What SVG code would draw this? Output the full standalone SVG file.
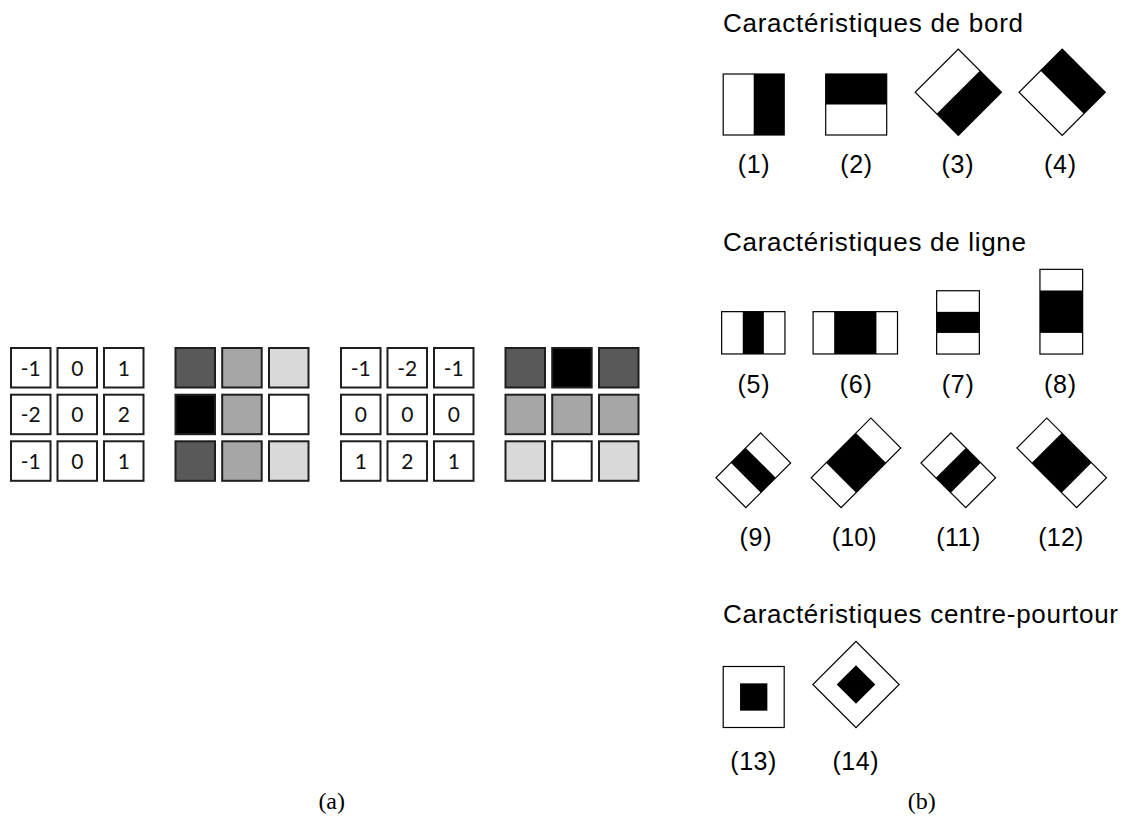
<svg xmlns="http://www.w3.org/2000/svg" width="1124" height="816" viewBox="0 0 1124 816">
<style>
.c{stroke:#1e1e1e;stroke-width:2}
.w{fill:#fff}.k{fill:#000}.d{fill:#595959}.m{fill:#a6a6a6}.l{fill:#d9d9d9}
.n{font-family:Lato,"Open Sans","Liberation Sans",sans-serif;font-size:21px;fill:#111;text-anchor:middle}
.f{stroke:#000;stroke-width:1.2;fill:#fff}
.t{font-family:"Liberation Sans",Arial,sans-serif;font-size:26px;fill:#000}
.lb{font-family:"Liberation Sans",Arial,sans-serif;font-size:25px;fill:#000;text-anchor:middle}
.cap{font-family:"Liberation Serif","DejaVu Serif",serif;font-size:24px;fill:#000;text-anchor:middle}
</style>
<rect width="1124" height="816" fill="#fff"/>

<g id="kernel-x">
<rect class="c w" x="11" y="348" width="39.5" height="39.5"/><text class="n" x="30.75" y="375.5">-1</text>
<rect class="c w" x="57.5" y="348" width="39.5" height="39.5"/><text class="n" x="77.25" y="375.5">0</text>
<rect class="c w" x="104" y="348" width="39.5" height="39.5"/><text class="n" x="123.75" y="375.5">1</text>
<rect class="c w" x="11" y="394.7" width="39.5" height="39.5"/><text class="n" x="30.75" y="422.2">-2</text>
<rect class="c w" x="57.5" y="394.7" width="39.5" height="39.5"/><text class="n" x="77.25" y="422.2">0</text>
<rect class="c w" x="104" y="394.7" width="39.5" height="39.5"/><text class="n" x="123.75" y="422.2">2</text>
<rect class="c w" x="11" y="441.3" width="39.5" height="39.5"/><text class="n" x="30.75" y="468.8">-1</text>
<rect class="c w" x="57.5" y="441.3" width="39.5" height="39.5"/><text class="n" x="77.25" y="468.8">0</text>
<rect class="c w" x="104" y="441.3" width="39.5" height="39.5"/><text class="n" x="123.75" y="468.8">1</text>
</g>

<g id="gray-x">
<rect class="c d" x="175.5" y="348" width="39.5" height="39.5"/>
<rect class="c m" x="222.2" y="348" width="39.5" height="39.5"/>
<rect class="c l" x="269" y="348" width="39.5" height="39.5"/>
<rect class="c k" x="175.5" y="394.7" width="39.5" height="39.5"/>
<rect class="c m" x="222.2" y="394.7" width="39.5" height="39.5"/>
<rect class="c w" x="269" y="394.7" width="39.5" height="39.5"/>
<rect class="c d" x="175.5" y="441.3" width="39.5" height="39.5"/>
<rect class="c m" x="222.2" y="441.3" width="39.5" height="39.5"/>
<rect class="c l" x="269" y="441.3" width="39.5" height="39.5"/>
</g>

<g id="kernel-y">
<rect class="c w" x="341" y="348" width="39.5" height="39.5"/><text class="n" x="360.75" y="375.5">-1</text>
<rect class="c w" x="387.5" y="348" width="39.5" height="39.5"/><text class="n" x="407.25" y="375.5">-2</text>
<rect class="c w" x="434" y="348" width="39.5" height="39.5"/><text class="n" x="453.75" y="375.5">-1</text>
<rect class="c w" x="341" y="394.7" width="39.5" height="39.5"/><text class="n" x="360.75" y="422.2">0</text>
<rect class="c w" x="387.5" y="394.7" width="39.5" height="39.5"/><text class="n" x="407.25" y="422.2">0</text>
<rect class="c w" x="434" y="394.7" width="39.5" height="39.5"/><text class="n" x="453.75" y="422.2">0</text>
<rect class="c w" x="341" y="441.3" width="39.5" height="39.5"/><text class="n" x="360.75" y="468.8">1</text>
<rect class="c w" x="387.5" y="441.3" width="39.5" height="39.5"/><text class="n" x="407.25" y="468.8">2</text>
<rect class="c w" x="434" y="441.3" width="39.5" height="39.5"/><text class="n" x="453.75" y="468.8">1</text>
</g>

<g id="gray-y">
<rect class="c d" x="505.5" y="348" width="39.5" height="39.5"/>
<rect class="c k" x="552.2" y="348" width="39.5" height="39.5"/>
<rect class="c d" x="599" y="348" width="39.5" height="39.5"/>
<rect class="c m" x="505.5" y="394.7" width="39.5" height="39.5"/>
<rect class="c m" x="552.2" y="394.7" width="39.5" height="39.5"/>
<rect class="c m" x="599" y="394.7" width="39.5" height="39.5"/>
<rect class="c l" x="505.5" y="441.3" width="39.5" height="39.5"/>
<rect class="c w" x="552.2" y="441.3" width="39.5" height="39.5"/>
<rect class="c l" x="599" y="441.3" width="39.5" height="39.5"/>
</g>

<text id="caption-a" class="cap" x="331.7" y="809">(a)</text>

<g id="title-edge"><text class="t" x="723" y="31.5" textLength="300" lengthAdjust="spacing">Caractéristiques de bord</text></g>

<g id="f1" transform="translate(753.7,104.5)">
<rect class="f" x="-30.5" y="-30.5" width="61" height="61"/><rect class="k" x="0" y="-30.5" width="30.5" height="61"/>
<text class="lb" x="0" y="68.5" textLength="32" lengthAdjust="spacing">(1)</text>
</g>
<g id="f2" transform="translate(856.2,104.5)">
<rect class="f" x="-30.5" y="-30.5" width="61" height="61"/><rect class="k" x="-30.5" y="-30.5" width="61" height="30.5"/>
<text class="lb" x="0" y="68.5" textLength="32" lengthAdjust="spacing">(2)</text>
</g>
<g id="f3">
<g transform="translate(958.3,92.2) rotate(45)"><rect class="f" x="-30.5" y="-30.5" width="61" height="61"/><rect class="k" x="0" y="-30.5" width="30.5" height="61"/></g>
<text class="lb" x="957.5" y="173" textLength="32" lengthAdjust="spacing">(3)</text>
</g>
<g id="f4">
<g transform="translate(1062.2,92.2) rotate(45)"><rect class="f" x="-30.5" y="-30.5" width="61" height="61"/><rect class="k" x="-30.5" y="-30.5" width="61" height="30.5"/></g>
<text class="lb" x="1060" y="173" textLength="32" lengthAdjust="spacing">(4)</text>
</g>

<g id="title-line"><text class="t" x="723" y="251" textLength="303" lengthAdjust="spacing">Caractéristiques de ligne</text></g>

<g id="f5">
<g transform="translate(753.3,332.8)"><rect class="f" x="-31.65" y="-21.15" width="63.3" height="42.3"/><rect class="k" x="-10.55" y="-21.15" width="21.1" height="42.3"/></g>
<text class="lb" x="753.5" y="393" textLength="32" lengthAdjust="spacing">(5)</text>
</g>
<g id="f6">
<g transform="translate(855.3,332.8)"><rect class="f" x="-42.2" y="-21.15" width="84.4" height="42.3"/><rect class="k" x="-21.1" y="-21.15" width="42.2" height="42.3"/></g>
<text class="lb" x="855.8" y="393" textLength="32" lengthAdjust="spacing">(6)</text>
</g>
<g id="f7">
<g transform="translate(958,322.4)"><rect class="f" x="-21.35" y="-31.65" width="42.7" height="63.3"/><rect class="k" x="-21.35" y="-10.55" width="42.7" height="21.1"/></g>
<text class="lb" x="957.8" y="393" textLength="32" lengthAdjust="spacing">(7)</text>
</g>
<g id="f8">
<g transform="translate(1061.3,311.7)"><rect class="f" x="-21.35" y="-42.35" width="42.7" height="84.7"/><rect class="k" x="-21.35" y="-21.2" width="42.7" height="42.4"/></g>
<text class="lb" x="1060" y="393" textLength="32" lengthAdjust="spacing">(8)</text>
</g>

<g id="f9">
<g transform="translate(753.3,470.3) rotate(-45)"><rect class="f" x="-31.65" y="-21.15" width="63.3" height="42.3"/><rect class="k" x="-10.55" y="-21.15" width="21.1" height="42.3"/></g>
<text class="lb" x="755.5" y="546.3" textLength="32" lengthAdjust="spacing">(9)</text>
</g>
<g id="f10">
<g transform="translate(856,462.8) rotate(-45)"><rect class="f" x="-42.2" y="-21.15" width="84.4" height="42.3"/><rect class="k" x="-21.1" y="-21.15" width="42.2" height="42.3"/></g>
<text class="lb" x="854.2" y="546.3" textLength="45" lengthAdjust="spacing">(10)</text>
</g>
<g id="f11">
<g transform="translate(958.3,470.3) rotate(45)"><rect class="f" x="-31.65" y="-21.15" width="63.3" height="42.3"/><rect class="k" x="-10.55" y="-21.15" width="21.1" height="42.3"/></g>
<text class="lb" x="958.3" y="546.3" textLength="44" lengthAdjust="spacing">(11)</text>
</g>
<g id="f12">
<g transform="translate(1061.7,462.8) rotate(45)"><rect class="f" x="-42.2" y="-21.15" width="84.4" height="42.3"/><rect class="k" x="-21.1" y="-21.15" width="42.2" height="42.3"/></g>
<text class="lb" x="1060.8" y="546.3" textLength="45" lengthAdjust="spacing">(12)</text>
</g>

<g id="title-cs"><text class="t" x="723" y="623" textLength="395" lengthAdjust="spacing">Caractéristiques centre-pourtour</text></g>

<g id="f13">
<g transform="translate(753.7,697)"><rect class="f" x="-30.5" y="-30.5" width="61" height="61"/><rect class="k" x="-13.65" y="-13.65" width="27.3" height="27.3"/></g>
<text class="lb" x="753.3" y="769.5" textLength="46" lengthAdjust="spacing">(13)</text>
</g>
<g id="f14">
<g transform="translate(856,684.5) rotate(45)"><rect class="f" x="-30.5" y="-30.5" width="61" height="61"/><rect class="k" x="-13.65" y="-13.65" width="27.3" height="27.3"/></g>
<text class="lb" x="855.5" y="769.5" textLength="46" lengthAdjust="spacing">(14)</text>
</g>

<text id="caption-b" class="cap" x="921.7" y="809">(b)</text>
</svg>
